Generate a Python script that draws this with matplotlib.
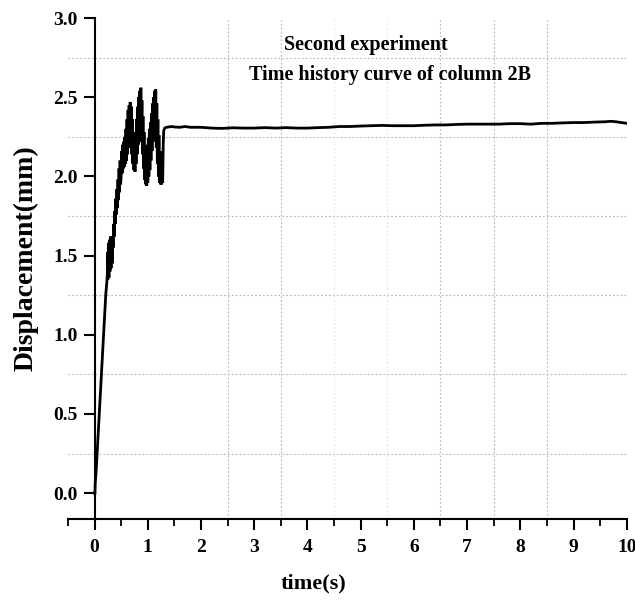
import matplotlib
matplotlib.use("Agg")
import matplotlib.pyplot as plt
from matplotlib.ticker import MultipleLocator, FormatStrFormatter

# ---- data ----
time_rise = [0.000, 0.008, 0.012, 0.030, 0.060, 0.100, 0.140, 0.180, 0.210, 0.230]
disp_rise = [0.00, 0.00, 0.06, 0.14, 0.32, 0.57, 0.82, 1.07, 1.25, 1.33]

time_band = [0.240, 0.245, 0.250, 0.260, 0.270, 0.280, 0.290, 0.300, 0.310, 0.320,
             0.330, 0.340, 0.350, 0.360, 0.370, 0.380, 0.390, 0.400, 0.410, 0.420,
             0.430, 0.440, 0.450, 0.460, 0.470, 0.480, 0.490]
disp_band = [1.38, 1.52, 1.35, 1.58, 1.36, 1.60, 1.40, 1.62, 1.42, 1.60,
             1.45, 1.62, 1.55, 1.70, 1.62, 1.78, 1.70, 1.86, 1.76, 1.92,
             1.80, 1.98, 1.85, 2.05, 1.90, 2.10, 1.95]

time_osc = [0.50, 0.51, 0.52, 0.53, 0.54, 0.55, 0.56, 0.57, 0.58, 0.59,
            0.60, 0.61, 0.62, 0.63, 0.64, 0.65, 0.66, 0.67, 0.68, 0.69,
            0.70, 0.71, 0.72, 0.73, 0.74, 0.75, 0.76, 0.77, 0.78, 0.79,
            0.80, 0.81, 0.82, 0.83, 0.84, 0.85, 0.86, 0.87, 0.88, 0.89,
            0.90, 0.91, 0.92, 0.93, 0.94, 0.95, 0.96, 0.97, 0.98, 0.99,
            1.00, 1.01, 1.02, 1.03, 1.04, 1.05, 1.06, 1.07, 1.08, 1.09,
            1.10, 1.11, 1.12, 1.13, 1.14, 1.15, 1.16, 1.17, 1.18, 1.19,
            1.20, 1.21, 1.22, 1.23, 1.24, 1.25, 1.26, 1.27, 1.28, 1.29]
disp_osc = [2.00, 2.16, 2.02, 2.20, 2.05, 2.22, 2.06, 2.25, 2.08, 2.30,
            2.10, 2.36, 2.14, 2.42, 2.18, 2.45, 2.22, 2.47, 2.20, 2.44,
            2.14, 2.36, 2.08, 2.28, 2.04, 2.24, 2.03, 2.28, 2.08, 2.36,
            2.14, 2.44, 2.20, 2.50, 2.25, 2.54, 2.26, 2.56, 2.22, 2.48,
            2.14, 2.38, 2.05, 2.28, 1.98, 2.20, 1.95, 2.16, 1.94, 2.18,
            1.96, 2.24, 2.00, 2.30, 2.04, 2.34, 2.10, 2.40, 2.16, 2.46,
            2.22, 2.50, 2.26, 2.54, 2.24, 2.55, 2.18, 2.46, 2.08, 2.36,
            2.00, 2.26, 1.96, 2.16, 1.95, 2.10, 1.95, 2.06, 1.96, 2.20]

time_plateau = [1.30, 1.32, 1.35, 1.45, 1.50, 1.60, 1.70, 1.80, 2.00, 2.20,
                2.40, 2.60, 2.80, 3.00, 3.20, 3.40, 3.60, 3.80, 4.00, 4.20,
                4.40, 4.60, 4.80, 5.00, 5.20, 5.40, 5.60, 5.80, 6.00, 6.20,
                6.40, 6.60, 6.80, 7.00, 7.20, 7.40, 7.60, 7.80, 8.00, 8.20,
                8.40, 8.60, 8.80, 9.00, 9.20, 9.40, 9.60, 9.70, 9.80, 9.90, 10.00]
disp_plateau = [2.29, 2.305, 2.31, 2.315, 2.312, 2.31, 2.315, 2.31, 2.31, 2.305,
                2.303, 2.307, 2.305, 2.305, 2.308, 2.305, 2.308, 2.305, 2.305, 2.308,
                2.31, 2.315, 2.315, 2.318, 2.32, 2.322, 2.32, 2.32, 2.32, 2.323,
                2.325, 2.325, 2.328, 2.33, 2.33, 2.33, 2.33, 2.333, 2.333, 2.33,
                2.335, 2.335, 2.338, 2.34, 2.34, 2.343, 2.345, 2.348, 2.345, 2.34, 2.335]

x_ticks = [0, 1, 2, 3, 4, 5, 6, 7, 8, 9, 10]
y_ticks = [0.0, 0.5, 1.0, 1.5, 2.0, 2.5, 3.0]
h_grid = [0.25, 0.75, 1.25, 1.75, 2.25, 2.75]
v_grid = [2.5, 3.5, 6.5, 7.5, 8.5]
v_grid_faint = [4.5, 5.5]

title_1 = "Second experiment"
title_2 = "Time history curve of column 2B"
x_label = "time(s)"
y_label = "Displacement(mm)"

# ---- figure ----
plt.rcParams['font.family'] = ['Liberation Serif', 'DejaVu Serif']
plt.rcParams['font.weight'] = 'bold'

fig = plt.figure(figsize=(6.35, 6.01), dpi=100)
ax = fig.add_axes([0.107, 0.136, 0.880, 0.834])
ax.set_xlim(-0.5, 10.0)
ax.set_ylim(-0.165, 3.0)

for v in h_grid:
    ax.axhline(v, color='#b5b5b5', lw=0.8, ls=(0, (1.5, 2)), zorder=0)
for t in v_grid:
    ax.axvline(t, color='#b5b5b5', lw=0.8, ls=(0, (1.5, 2)), zorder=0)
for t in v_grid_faint:
    ax.axvline(t, color='#e2e2e2', lw=0.8, ls=(0, (1.5, 2)), zorder=0)

times = time_rise + time_band + time_osc + time_plateau
disps = disp_rise + disp_band + disp_osc + disp_plateau
ax.plot(times, disps, color='black', lw=2.0, solid_joinstyle='miter', zorder=3)

for s in ('top', 'right'):
    ax.spines[s].set_visible(False)
ax.spines['left'].set_position(('data', 0))
ax.spines['left'].set_linewidth(1.5)
ax.spines['bottom'].set_linewidth(1.5)

ax.set_xticks(x_ticks)
ax.xaxis.set_minor_locator(MultipleLocator(0.5))
ax.set_yticks(y_ticks)
ax.yaxis.set_major_formatter(FormatStrFormatter('%.1f'))
ax.tick_params(axis='both', which='major', direction='out', length=8, width=1.5,
               labelsize=14, pad=4)
ax.tick_params(axis='x', which='minor', direction='out', length=5, width=1.3)
ax.tick_params(axis='x', which='major', pad=6)

ax.set_xlabel(x_label, fontsize=16, fontweight='bold')
ax.set_ylabel(y_label, fontsize=20, fontweight='bold')
ax.xaxis.set_label_coords(0.44, -0.108)
ax.yaxis.set_label_coords(-0.053, 0.52)

ax.text(5.1, 2.80, title_1, ha='center', va='baseline', fontsize=14.5, fontweight='bold')
ax.text(5.55, 2.61, title_2, ha='center', va='baseline', fontsize=14.5, fontweight='bold')

fig.savefig('out.png', dpi=100)
